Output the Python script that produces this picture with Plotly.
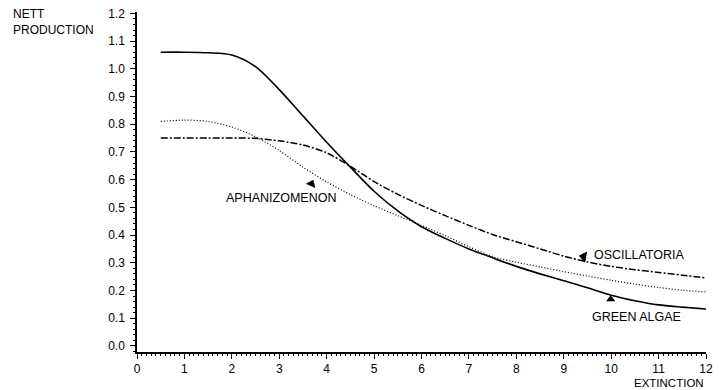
import plotly.graph_objects as go

# Extinction values (x) shared by all three curves
extinction = [0.5, 1.0, 1.5, 2.0, 2.5, 3.0, 3.5, 4.0, 4.5, 5.0, 5.5, 6.0,
              6.5, 7.0, 7.5, 8.0, 8.5, 9.0, 9.5, 10.0, 10.5, 11.0, 11.5, 12.0]

green_algae = [1.06, 1.06, 1.058, 1.05, 1.008, 0.925, 0.83, 0.735, 0.645, 0.558,
               0.487, 0.43, 0.388, 0.35, 0.318, 0.287, 0.26, 0.235, 0.21, 0.183,
               0.163, 0.148, 0.14, 0.133]

aphanizomenon = [0.81, 0.815, 0.81, 0.79, 0.755, 0.705, 0.645, 0.592, 0.546, 0.506,
                 0.47, 0.435, 0.398, 0.358, 0.322, 0.302, 0.285, 0.268, 0.252, 0.237,
                 0.223, 0.211, 0.201, 0.195]

oscillatoria = [0.75, 0.75, 0.75, 0.75, 0.749, 0.74, 0.725, 0.697, 0.648, 0.593,
                0.547, 0.507, 0.47, 0.435, 0.402, 0.376, 0.35, 0.324, 0.303, 0.287,
                0.275, 0.265, 0.255, 0.245]

x_ticks = list(range(0, 13))
y_ticks = [round(i * 0.1, 1) for i in range(0, 13)]
y_tick_text = [f"{v:.1f}" for v in y_ticks]

FONT = "Liberation Sans, Arial, Helvetica, sans-serif"
INK = "#000000"

fig = go.Figure()

fig.add_trace(go.Scatter(x=extinction, y=green_algae, mode="lines",
                         line=dict(color=INK, width=1.6, shape="spline", smoothing=0.8),
                         name="GREEN ALGAE"))
fig.add_trace(go.Scatter(x=extinction, y=aphanizomenon, mode="lines",
                         line=dict(color=INK, width=1.2, shape="spline", smoothing=0.8,
                                   dash="1px,2px"),
                         name="APHANIZOMENON"))
fig.add_trace(go.Scatter(x=extinction, y=oscillatoria, mode="lines",
                         line=dict(color=INK, width=1.5, shape="spline", smoothing=0.8,
                                   dash="7px,2px,2px,2px"),
                         name="OSCILLATORIA"))

# Small filled pointer triangles linking labels to curves
fig.add_trace(go.Scatter(
    x=[3.68, 9.42, 9.99], y=[0.585, 0.322, 0.168], mode="markers",
    marker=dict(symbol=["triangle-up", "triangle-left", "triangle-up"],
                size=[9, 10, 8], angle=[25, 10, 0], color=INK, opacity=1,
                line=dict(width=0, color=INK)),
    hoverinfo="skip"))

label_font = dict(family=FONT, size=12.5, color=INK)
fig.add_annotation(x=3.03, y=0.533, text="APHANIZOMENON", showarrow=False,
                   xanchor="center", yanchor="middle", font=label_font)
fig.add_annotation(x=9.6, y=0.329, text="OSCILLATORIA", showarrow=False,
                   xanchor="left", yanchor="middle", font=label_font)
fig.add_annotation(x=10.53, y=0.105, text="GREEN ALGAE", showarrow=False,
                   xanchor="center", yanchor="middle", font=label_font)

# Axis titles placed as free text
fig.add_annotation(xref="paper", yref="paper", x=-0.222, y=1.02,
                   text="NETT<br>PRODUCTION", showarrow=False, align="left",
                   xanchor="left", yanchor="top",
                   font=dict(family=FONT, size=12, color=INK))
fig.add_annotation(xref="paper", yref="paper", x=1.0, y=-0.09,
                   text="EXTINCTION", showarrow=False,
                   xanchor="right", yanchor="middle",
                   font=dict(family=FONT, size=11.5, color=INK))

fig.update_xaxes(range=[0, 12], tickvals=x_ticks, ticktext=[str(v) for v in x_ticks],
                 showgrid=False, zeroline=False, showline=True, linecolor=INK,
                 linewidth=1.5, ticks="outside", ticklen=5, tickwidth=1.2,
                 tickcolor=INK, tickfont=dict(family=FONT, size=12, color=INK),
                 minor=dict(dtick=0.1, ticks="outside", ticklen=2, tickwidth=1,
                            tickcolor=INK, showgrid=False))
fig.update_yaxes(range=[-0.022, 1.205], tickvals=y_ticks, ticktext=y_tick_text,
                 showgrid=False, zeroline=False, showline=True, linecolor=INK,
                 linewidth=1.5, ticks="outside", ticklen=5, tickwidth=1.2,
                 tickcolor=INK, tickfont=dict(family=FONT, size=12, color=INK),
                 ticklabelstandoff=3,
                 minor=dict(dtick=0.02, ticks="outside", ticklen=2, tickwidth=1,
                            tickcolor=INK, showgrid=False))

fig.update_layout(width=720, height=390, showlegend=False,
                  margin=dict(l=137, r=7, t=12, b=38),
                  paper_bgcolor="white", plot_bgcolor="white")

fig.write_html("out.html")
